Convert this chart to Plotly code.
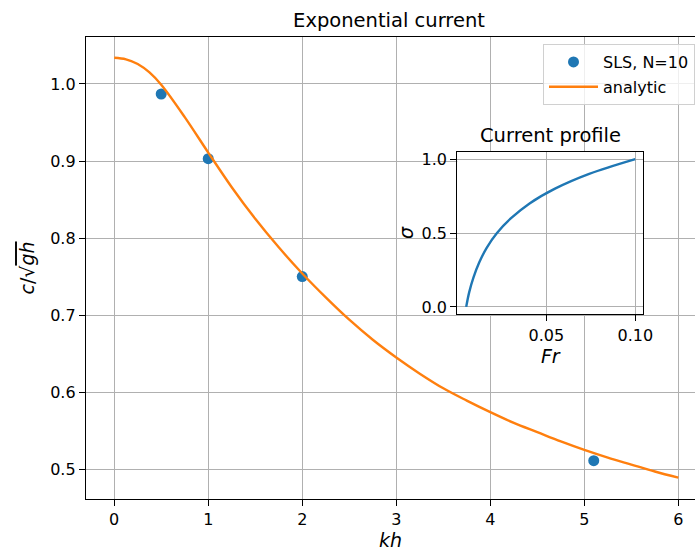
import plotly.graph_objects as go

# Phase speed vs. wavenumber: SLS (N=10) samples and analytic curve
kh_sls = [0.5, 1.0, 2.0, 5.1]
c_sls = [0.987, 0.903, 0.750, 0.511]

kh_analytic = [0.0, 0.125, 0.25, 0.375, 0.5, 0.75, 1.0, 1.25, 1.5, 1.75, 2.0,
               2.25, 2.5, 2.75, 3.0, 3.25, 3.5, 3.75, 4.0, 4.25, 4.5, 4.75,
               5.0, 5.25, 5.5, 5.75, 6.0]
c_analytic = [1.034, 1.032, 1.026, 1.015, 0.999, 0.957, 0.911, 0.866, 0.825,
              0.788, 0.754, 0.723, 0.694, 0.668, 0.645, 0.624, 0.605, 0.589,
              0.574, 0.560, 0.548, 0.536, 0.525, 0.515, 0.506, 0.497, 0.489]

# Exponential current profile (Froude number vs. sigma)
sigma = [0.0, 0.1, 0.2, 0.3, 0.4, 0.5, 0.6, 0.7, 0.8, 0.9, 1.0]
froude = [0.0050, 0.0067, 0.0091, 0.0123, 0.0165, 0.0223, 0.0302, 0.0406,
          0.0549, 0.0741, 0.1000]

x_ticks = [0, 1, 2, 3, 4, 5, 6]
y_ticks = [0.5, 0.6, 0.7, 0.8, 0.9, 1.0]
inset_x_ticks = [0.05, 0.10]
inset_y_ticks = [0.0, 0.5, 1.0]

BLUE = "#1f77b4"
ORANGE = "#ff7f0e"
GRID = "#b0b0b0"
FONT = "DejaVu Sans"
TICK_SIZE = 16
TITLE_SIZE = 19.5

fig = go.Figure()

fig.add_trace(go.Scatter(
    x=kh_sls, y=c_sls, mode="markers", name="SLS, N=10", legendgroup="a",
    marker=dict(color=BLUE, size=11, line=dict(width=0)),
    xaxis="x", yaxis="y",
))
fig.add_trace(go.Scatter(
    x=kh_analytic, y=c_analytic, mode="lines", name="analytic", legendgroup="b",
    line=dict(color=ORANGE, width=2.4, shape="spline", smoothing=1.0),
    xaxis="x", yaxis="y",
))
fig.add_trace(go.Scatter(
    x=froude, y=sigma, mode="lines", showlegend=False,
    line=dict(color=BLUE, width=2.4, shape="spline", smoothing=1.0),
    xaxis="x2", yaxis="y2",
))

axis_common = dict(
    showgrid=True, gridcolor=GRID, gridwidth=1.3,
    ticks="outside", ticklen=6, tickwidth=1.3, tickcolor="black",
    showline=True, linecolor="black", linewidth=1.3,
    zeroline=False, tickfont=dict(size=TICK_SIZE, color="black", family=FONT),
)

fig.update_layout(
    width=695, height=554,
    margin=dict(l=86, r=0, t=37, b=55, autoexpand=False),
    paper_bgcolor="white", plot_bgcolor="white",
    font=dict(family=FONT, size=TICK_SIZE, color="black"),
    title=dict(text="Exponential current", x=389 / 695, xanchor="center",
               xref="container", y=1 - 20 / 554, yanchor="middle",
               yref="container", font=dict(size=TITLE_SIZE, color="black")),
    xaxis=dict(
        **axis_common, mirror=True, domain=[0, 1],
        range=[-0.3, 6.177], tickvals=x_ticks,
        ticktext=[str(v) for v in x_ticks],
        title=dict(text="<i>kh</i>", standoff=4),
        anchor="y",
    ),
    yaxis=dict(
        **axis_common, mirror=False, domain=[0, 1],
        range=[0.4613, 1.0610], tickvals=y_ticks,
        ticktext=[f"{v:.1f}" for v in y_ticks],
        title=dict(text="<i>c</i>/√<span style='text-decoration:overline'><i>gh</i></span>",
                   standoff=10),
        anchor="x",
    ),
    xaxis2=dict(
        **axis_common, mirror=True, domain=[0.6097, 0.9151],
        range=[0.0, 0.1045], tickvals=inset_x_ticks,
        ticktext=[f"{v:.2f}" for v in inset_x_ticks],
        title=dict(text="<i>Fr</i>", standoff=2),
        anchor="y2",
    ),
    yaxis2=dict(
        **axis_common, mirror=True, domain=[0.3998, 0.7517],
        range=[-0.05, 1.05], tickvals=inset_y_ticks,
        ticktext=[f"{v:.1f}" for v in inset_y_ticks],
        title=dict(text="<i>σ</i>", standoff=2),
        anchor="x2",
    ),
    legend=dict(
        xref="container", yref="container",
        x=543 / 695, y=1 - 44 / 554, xanchor="left", yanchor="top",
        bgcolor="rgba(255,255,255,0.8)", bordercolor="#d0d0d0", borderwidth=1,
        font=dict(size=TICK_SIZE, color="black", family=FONT),
        itemwidth=49, tracegroupgap=1,
    ),
    annotations=[dict(
        text="Current profile", xref="paper", yref="paper",
        x=(0.6097 + 0.9151) / 2, y=0.7517, xanchor="center", yanchor="bottom",
        yshift=3, showarrow=False,
        font=dict(size=TITLE_SIZE, color="black", family=FONT),
    )],
)

fig.write_html("out.html")
